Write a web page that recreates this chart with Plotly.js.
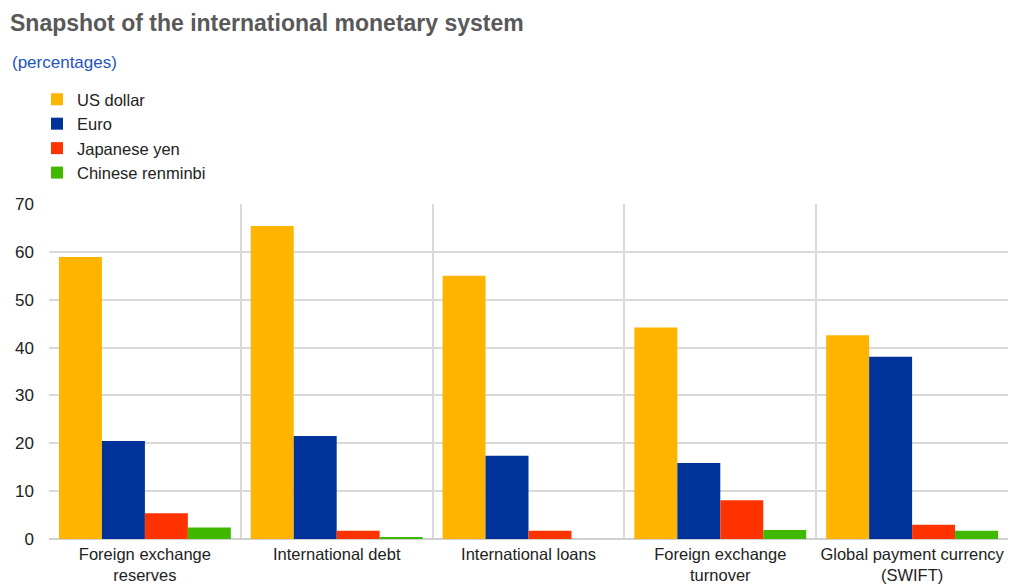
<!DOCTYPE html>
<html>
<head>
<meta charset="utf-8">
<script src="https://cdn.plot.ly/plotly-3.0.1.min.js"></script>
<style>html,body{margin:0;padding:0;background:#fff;}#chart{width:1010px;height:587px;}</style>
</head>
<body>
<div id="chart"></div>
<script>
var categories = ["Foreign exchange<br>reserves", "International debt", "International loans", "Foreign exchange<br>turnover", "Global payment currency<br>(SWIFT)"];
var seriesNames = ["US dollar", "Euro", "Japanese yen", "Chinese renminbi"];
var usDollar = [58.9, 65.4, 55.0, 44.2, 42.6];
var euro = [20.5, 21.5, 17.4, 15.9, 38.1];
var japaneseYen = [5.4, 1.7, 1.7, 8.1, 3.0];
var chineseRenminbi = [2.4, 0.4, 0, 1.9, 1.7];
var colors = ["#FFB400", "#003299", "#FF3300", "#40B800"];
var seriesValues = [usDollar, euro, japaneseYen, chineseRenminbi];

var font = "Liberation Sans, Arial, Helvetica, sans-serif";
var traces = seriesValues.map(function (vals, i) {
  return {
    type: "bar",
    name: seriesNames[i],
    x: categories,
    y: vals,
    marker: {color: colors[i], line: {width: 0}},
    hoverinfo: "name+y"
  };
});

var layout = {
  width: 1010, height: 587,
  margin: {l: 49, r: 2, t: 204, b: 48},
  paper_bgcolor: "#fff", plot_bgcolor: "#fff",
  barmode: "group", bargap: 0.104, bargroupgap: 0,
  font: {family: font, size: 17, color: "#222"},
  title: {
    text: "<b>Snapshot of the international monetary system</b>",
    font: {family: font, size: 23, color: "#595959"},
    x: 10 / 1010, xref: "container", xanchor: "left",
    y: 1 - 23 / 587, yref: "container", yanchor: "middle"
  },
  annotations: [{
    text: "(percentages)", xref: "paper", yref: "paper",
    x: -39 / 959, y: 1 + (204 - 62) / 335, xanchor: "left", yanchor: "middle",
    showarrow: false, font: {family: font, size: 17, color: "#2554BD"}
  }],
  showlegend: true,
  legend: {
    x: -12 / 959, y: 1 + (204 - 82) / 335, xanchor: "left", yanchor: "top",
    traceorder: "normal",
    font: {family: font, size: 16.5, color: "#222"},
    bgcolor: "rgba(0,0,0,0)", itemclick: false
  },
  xaxis: {
    type: "category", tickson: "boundaries", showgrid: true,
    gridcolor: "#d9d9d9", gridwidth: 2, ticks: "", showline: false,
    tickangle: 0, automargin: false, ticklabelstandoff: 3,
    tickfont: {family: font, size: 16.5, color: "#222"}, fixedrange: true
  },
  yaxis: {
    range: [0, 70], dtick: 10, showgrid: true, gridcolor: "#d9d9d9", gridwidth: 2,
    zeroline: true, zerolinecolor: "#d0d0d0", zerolinewidth: 2,
    ticks: "", ticklabelstandoff: 14,
    tickfont: {family: font, size: 17, color: "#222"}, fixedrange: true
  }
};

Plotly.newPlot("chart", traces, layout, {displayModeBar: false, staticPlot: true});
</script>
</body>
</html>
